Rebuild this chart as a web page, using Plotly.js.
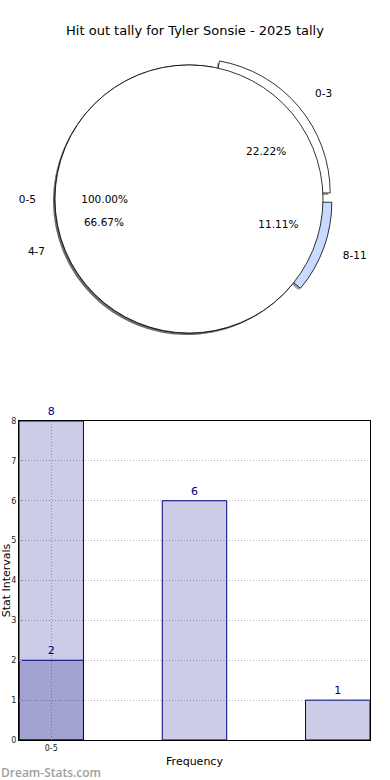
<!DOCTYPE html>
<html><head><meta charset="utf-8">
<script src="https://cdn.plot.ly/plotly-3.0.1.min.js"></script>
<style>html,body{margin:0;padding:0;background:#fff}#chart{width:390px;height:780px}</style>
</head><body><div id="chart"></div>
<script>
// ---- data ----
const chartTitle = 'Hit out tally for Tyler Sonsie - 2025 tally';
const pieLabels = ['0-3', '4-7', '8-11'];
const pieValues = [2, 6, 1];
const piePull = [0.07, 0, 0.07];
const pieColors = ['#ffffff', '#ffffff', '#c8daff'];
const totalLabels = ['0-5'];
const totalValues = [9];
const barPositions = [0, 1, 2];
const barValues = [8, 6, 1];
const overlayPositions = [0];
const overlayValues = [2];
const xTickVals = [0];
const xTickText = ['0-5'];
const yTicks = [0, 1, 2, 3, 4, 5, 6, 7, 8];
const xTitle = 'Frequency';
const yTitle = 'Stat Intervals';
const watermark = 'Dream-Stats.com';

// ---- layout geometry ----
const W = 390, H = 780, M = {l: 19, r: 20, t: 0, b: 40};
const PW = W - M.l - M.r, PH = H - M.t - M.b;
const cx = 189, cy = 199, R = 134, maxPull = 0.07;
const rLabel = 150, rPct = 66, rPctFull = 58;
function dom(half, dx, dy) {
  const fx = (cx + dx - M.l) / PW, fy = (H - M.b - (cy + dy)) / PH;
  return {x: [fx - half / PW, fx + half / PW], y: [fy - half / PH, fy + half / PH]};
}
const k = 1 + maxPull;

const FONT = 'DejaVu Sans, Verdana, sans-serif';
const NAVY = '#000080';
const clear = 'rgba(0,0,0,0)';
const shadowCol = 'rgba(0,0,0,0.35)';
const pieBase = {type: 'pie', sort: false, direction: 'counterclockwise', hoverinfo: 'skip',
  showlegend: false, textfont: {family: FONT, size: 10.5, color: '#000'}};
const rotSlices = 10, rotFull = 90;

function slicePie(opts) {
  return Object.assign({}, pieBase, {labels: pieLabels, values: pieValues, pull: piePull, rotation: rotSlices}, opts);
}
function fullPie(opts) {
  return Object.assign({}, pieBase, {labels: totalLabels, values: totalValues, rotation: rotFull}, opts);
}

const traces = [
  // shadows
  slicePie({domain: dom(R * k, -2, 2), marker: {colors: pieColors.map(() => shadowCol), line: {width: 0}}, textinfo: 'none'}),
  fullPie({domain: dom(R, -2, 2), marker: {colors: [shadowCol], line: {width: 0}}, textinfo: 'none'}),
  // exploded slices
  slicePie({domain: dom(R * k, 0, 0), marker: {colors: pieColors, line: {color: '#000', width: 0.8}}, textinfo: 'none'}),
  // full 0-5 pie on top
  fullPie({domain: dom(R, 0, 0), marker: {colors: ['#ffffff'], line: {color: '#000', width: 0.8}}, textinfo: 'none'}),
  // 0-5 label and 100% text
  fullPie({domain: dom(rLabel, 0, 0), marker: {colors: [clear], line: {width: 0}},
    textinfo: 'label', textposition: 'outside'}),
  fullPie({domain: dom(rPctFull, 0, 0), marker: {colors: [clear], line: {width: 0}},
    texttemplate: '%{percent:.2%}', textposition: 'outside'}),
  // slice percent texts and labels
  slicePie({domain: dom(rPct * k, 0, 0), marker: {colors: pieColors.map(() => clear), line: {width: 0}},
    texttemplate: '%{percent:.2%}', textposition: 'outside'}),
  slicePie({domain: dom(rLabel * k, 0, 0), marker: {colors: pieColors.map(() => clear), line: {width: 0}},
    textinfo: 'label', textposition: 'outside'}),
  // bars
  {type: 'bar', x: barPositions, y: barValues, width: 0.45, xaxis: 'x', yaxis: 'y',
    marker: {color: 'rgba(0,0,128,0.2)', line: {color: NAVY, width: 1}},
    text: barValues, textposition: 'outside', cliponaxis: false,
    textfont: {family: FONT, size: 11, color: NAVY}, hoverinfo: 'skip', showlegend: false},
  {type: 'bar', x: overlayPositions, y: overlayValues, width: 0.45, xaxis: 'x', yaxis: 'y',
    marker: {color: 'rgba(0,0,128,0.2)', line: {color: NAVY, width: 1}},
    text: overlayValues, textposition: 'outside', cliponaxis: false,
    textfont: {family: FONT, size: 11, color: NAVY}, hoverinfo: 'skip', showlegend: false}
];

const axisCommon = {showline: true, mirror: true, linecolor: '#000', linewidth: 1,
  showgrid: true, gridcolor: '#b4b4b4', griddash: '1px,2px', gridwidth: 1, zeroline: false,
  ticks: 'inside', ticklen: 3, tickcolor: '#999', fixedrange: true,
  tickfont: {family: FONT, size: 8, color: '#222'}};

const layout = {
  width: W, height: H, margin: M, paper_bgcolor: '#fff', plot_bgcolor: '#fff',
  font: {family: FONT, color: '#000'},
  title: {text: chartTitle, font: {family: FONT, size: 13, color: '#000'},
    x: 0.5, xref: 'container', y: 1 - 30 / H, yref: 'container', yanchor: 'middle'},
  barmode: 'overlay', showlegend: false,
  xaxis: Object.assign({}, axisCommon, {domain: [0, 1], range: [-0.225, 2.225],
    tickvals: xTickVals, ticktext: xTickText,
    title: {text: xTitle, font: {family: FONT, size: 11, color: '#000'}, standoff: 5}}),
  yaxis: Object.assign({}, axisCommon, {domain: [0, (H - M.b - 421) / PH], range: [0, 8],
    tickvals: yTicks,
    title: {text: yTitle, font: {family: FONT, size: 11, color: '#000'}, standoff: 0}}),
  annotations: [{text: watermark, xref: 'paper', yref: 'paper', x: 0, y: 0,
    xanchor: 'left', yanchor: 'top', xshift: -20, yshift: -22, showarrow: false,
    font: {family: 'Open Sans, sans-serif', size: 12, color: '#a0a0a0', weight: 600}}]
};

Plotly.newPlot('chart', traces, layout, {displayModeBar: false, staticPlot: true});
</script>
</body></html>
